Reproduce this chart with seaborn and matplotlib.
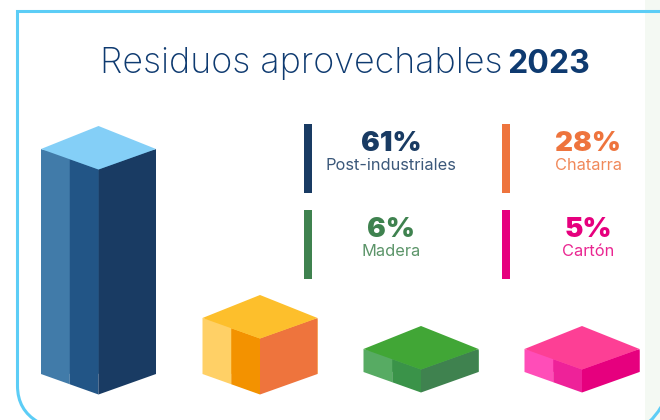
import matplotlib
matplotlib.use("Agg")
import matplotlib.pyplot as plt
from matplotlib.patches import Polygon, Rectangle, PathPatch
from matplotlib.path import Path
import numpy as np
import pandas as pd
import seaborn as sns

categories = ["Post-industriales", "Chatarra", "Madera", "Cartón"]
percent = [61, 28, 6, 5]
# apparent side height of each isometric box
box_height = [225, 56, 23, 23]

top_col = ["#84CFF7", "#FDBF2C", "#41A636", "#FD3F95"]
outer_col = ["#417BA9", "#FFD066", "#57AB63", "#FF4DB8"]
inner_col = ["#225586", "#F39200", "#3A9349", "#EE2299"]
right_col = ["#193B63", "#EE743D", "#3F824F", "#E6007E"]
centers = [98.5, 260, 421, 582]
baseline = [0, 0, 2, 2]

NAVY = "#0E3A70"
FONT = "Inter"
sns.set_theme(style="white")
plt.rcParams["font.family"] = [FONT, "DejaVu Sans"]

fig = plt.figure(figsize=(6.6, 4.2), dpi=100, facecolor="white")
bg = fig.add_axes([0, 0, 1, 1])
bg.set_xlim(0, 660); bg.set_ylim(420, 0); bg.axis("off")
bg.add_patch(Rectangle((645, 0), 15, 420, fc="#F4F9F3", ec="none", zorder=0))
LINE = dict(fc="none", ec="#5CCDF6", lw=2.2, zorder=1)
frame = Path([(38, 422), (17.5, 410), (17.5, 386), (17.5, 11.5), (661, 11.5)],
             [Path.MOVETO, Path.CURVE3, Path.CURVE3, Path.LINETO, Path.LINETO])
bg.add_patch(PathPatch(frame, joinstyle="miter", **LINE))
corner2 = Path([(649, 422), (656, 416), (661, 407)], [Path.MOVETO, Path.CURVE3, Path.CURVE3])
bg.add_patch(PathPatch(corner2, **LINE))

# y = 0 on this axes is the pixel row 374, one data unit is one pixel
ax = fig.add_axes([0, 0, 1, 1], facecolor="none")
df = pd.DataFrame({"x": centers, "h": box_height, "c": categories})
sns.barplot(data=df, x="x", y="h", hue="c", palette=outer_col, native_scale=True,
            width=115 / np.diff(centers).min(), dodge=False, legend=False, ax=ax,
            saturation=1, errorbar=None)
ax.set_xlim(0, 660); ax.set_ylim(-46, 374); ax.axis("off")
patches = sorted(ax.patches, key=lambda p: p.get_x())
drop = 20.5
rise = 23
for i, p in enumerate(patches):
    x0 = p.get_x(); w = p.get_width(); h = p.get_height()
    b = baseline[i]
    p.set_y(b)
    xm = x0 + w / 2; xq = x0 + w / 4
    yt = b + h; yb = b
    faces = [
        ([(x0, yt), (xq, yt - drop / 2), (xq, yb - drop / 2), (x0, yb)], outer_col[i]),
        ([(xq, yt - drop / 2), (xm, yt - drop), (xm, yb - drop), (xq, yb - drop / 2)], inner_col[i]),
        ([(xm, yt - drop), (x0 + w, yt), (x0 + w, yb), (xm, yb - drop)], right_col[i]),
        ([(x0, yt), (xm, yt + rise), (x0 + w, yt), (xm, yt - drop)], top_col[i]),
    ]
    for pts, col in faces:
        ax.add_patch(Polygon(pts, closed=True, fc=col, ec="none", zorder=3))

# title
bg.text(100, 73, "Residuos aprovechables", fontsize=25.8, color=NAVY, fontweight="light", va="baseline", ha="left")
bg.text(590, 73, "2023", fontsize=23, color=NAVY, fontweight="bold", va="baseline", ha="right")

# legend
leg_x = [304, 502, 304, 502]
leg_y = [124, 124, 210, 210]
txt_x = [391, 588, 391, 588]
for i in range(4):
    bg.add_patch(Rectangle((leg_x[i], leg_y[i]), 8, 69, fc=right_col[i], ec="none", zorder=2))
    bg.text(txt_x[i], leg_y[i] + 20, f"{percent[i]}%", fontsize=20, fontweight="black",
            color=right_col[i], ha="center", va="center")
    bg.text(txt_x[i], leg_y[i] + 41.5, categories[i], fontsize=11.8, color=right_col[i],
            ha="center", va="center", alpha=0.85)

fig.savefig("out.png", dpi=100)
